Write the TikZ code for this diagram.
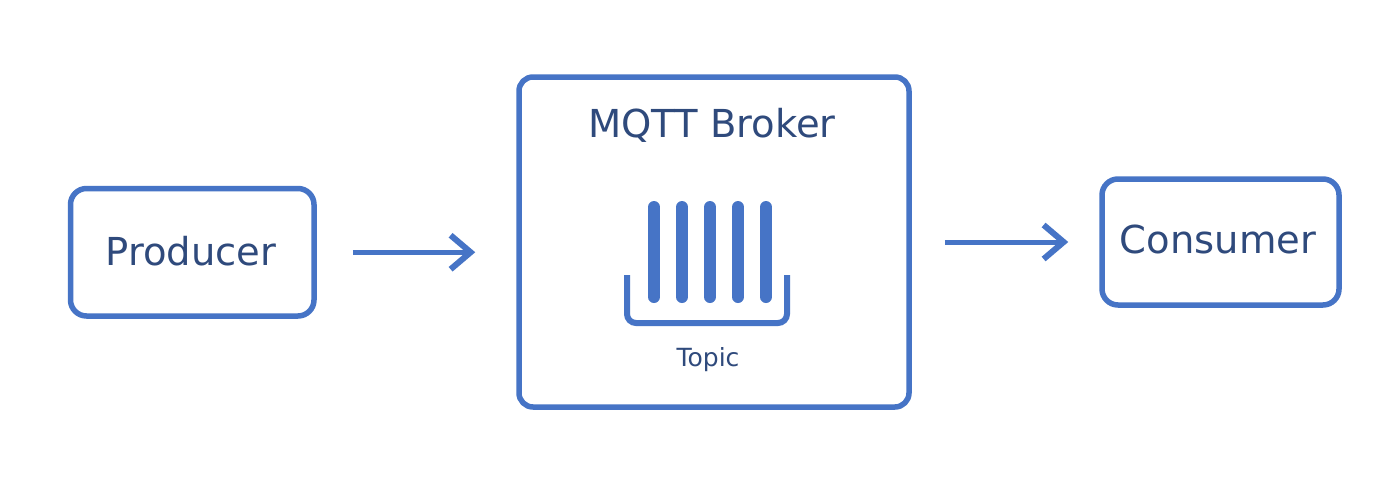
\documentclass[tikz,border=0pt]{standalone}
\usepackage{fontspec}
\setmainfont{DejaVu Sans}
\usetikzlibrary{arrows.meta}
\definecolor{boxblue}{HTML}{4674C6}
\definecolor{txtblue}{HTML}{2F4A7C}
\tikzset{
  box/.style={draw=boxblue, line width=5.5pt, rounded corners=16pt, fill=white, inner sep=0pt},
  lbl/.style={text=txtblue, anchor=base, inner sep=0pt, font=\fontsize{38.5}{46}\selectfont},
  small/.style={text=txtblue, anchor=base, inner sep=0pt, font=\fontsize{25}{30}\selectfont},
  conn/.style={draw=boxblue, line width=5pt, -{Straight Barb[length=20pt,width=34pt,line width=6pt]}},
  bar/.style={draw=boxblue, line width=12pt, line cap=round},
}
\begin{document}
\begin{tikzpicture}[x=1pt,y=-1pt]
\useasboundingbox (0,0) rectangle (1400,499);
\fill[white] (0,0) rectangle (1400,499);
% boxes
\node[box, minimum width=243.5pt, minimum height=127.5pt] (prod) at (192.25,252.25) {};
\node[box, minimum width=390pt, minimum height=330pt, rounded corners=14pt] (broker) at (714,242) {};
\node[box, minimum width=237pt, minimum height=126pt] (cons) at (1220.5,242) {};
% texts
\node[lbl] (prodtxt) at (191,265) {Producer};
\node[lbl] (brokertxt) at (712,137) {MQTT Broker};
\node[lbl] (constxt) at (1218,253) {Consumer};
\node[small] (topictxt) at (708,366) {Topic};
% topic icon
\foreach \i/\x in {1/654,2/682,3/710,4/738,5/766}{
  \draw[bar] (\x,207) -- (\x,297);
}
\draw[draw=boxblue, line width=6pt, rounded corners=9pt] (627,275) -- (627,323) -- (787,323) -- (787,275);
% connectors
\coordinate (a1) at ([xshift=36pt]prod.east);
\coordinate (a2) at ([xshift=-41pt]prod.east -| broker.west);
\draw[conn] (a1) -- (a2);
\coordinate (b1) at ([xshift=33pt]broker.east |- cons.west);
\coordinate (b2) at ([xshift=-31pt]cons.west);
\draw[conn] (b1) -- (b2);
\end{tikzpicture}
\end{document}
